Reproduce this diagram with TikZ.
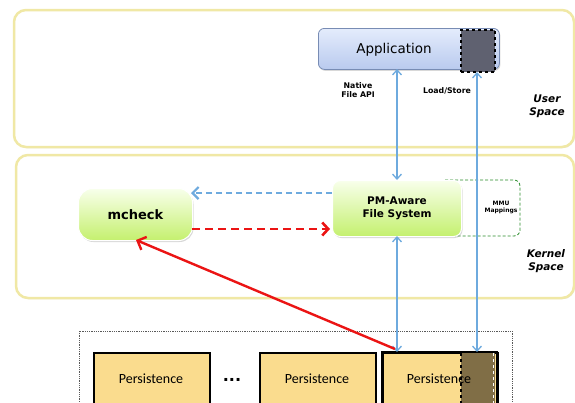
\documentclass[tikz,border=0pt]{standalone}
\usepackage{fontspec}
\setmainfont{DejaVu Sans}
\newfontfamily\calfont{Carlito}
\usetikzlibrary{arrows.meta,shadows}
\definecolor{panelline}{RGB}{240,232,165}
\definecolor{appfillA}{RGB}{228,236,252}
\definecolor{appfillB}{RGB}{185,202,238}
\definecolor{appline}{RGB}{120,140,180}
\definecolor{darkpatch}{RGB}{95,97,112}
\definecolor{greenA}{RGB}{248,255,235}
\definecolor{greenB}{RGB}{196,240,110}
\definecolor{persfill}{RGB}{250,220,142}
\definecolor{persdark}{RGB}{128,110,70}
\definecolor{arrblue}{RGB}{110,170,222}
\definecolor{arrred}{RGB}{235,20,20}
\definecolor{mmugreen}{RGB}{40,140,40}
\begin{document}
\begin{tikzpicture}[x=1pt,y=-1pt,
  panel/.style={draw=panelline,line width=2.5pt,rounded corners=12pt,fill=white,
     drop shadow={shadow xshift=1pt,shadow yshift=-1pt,opacity=0.25}},
  greenbox/.style={rounded corners=8pt,top color=greenA,bottom color=greenB,
     draw=white,line width=1pt,drop shadow={shadow xshift=1pt,shadow yshift=-1.5pt,opacity=0.3}},
  persbox/.style={fill=persfill,draw=black,line width=1.6pt},
  blarrow/.style={draw=arrblue,line width=1.3pt,{Straight Barb[length=5pt,width=9pt]}-{Straight Barb[length=5pt,width=9pt]}},
  smalllbl/.style={font=\bfseries\fontsize{7.8}{9.5}\selectfont,align=center},
  spacelbl/.style={font=\bfseries\itshape\fontsize{10.5}{13}\selectfont,align=center},
  perstxt/.style={font=\calfont\fontsize{14}{16}\selectfont},
]
\useasboundingbox (0,0) rectangle (575,402);
\clip (0,0) rectangle (575,402);
\fill[white] (0,0) rectangle (575,402);
% panels
\draw[panel] (14,10) rectangle (574,147);
\draw[panel] (16,155) rectangle (574,298);
% application
\node[draw=appline,line width=0.8pt,rounded corners=6pt,top color=appfillA,bottom color=appfillB,
  minimum width=181pt,minimum height=41pt,inner sep=0pt,anchor=north west,
  drop shadow={shadow xshift=1pt,shadow yshift=-1.5pt,opacity=0.3}] (app) at (318,28) {};
\node[font=\fontsize{13.5}{16}\selectfont] (apptxt) at (394,50) {Application};
\node[fill=darkpatch,draw=black,dashed,line width=1.6pt,minimum width=34pt,minimum height=42pt,
  inner sep=0pt,anchor=north west] (apppatch) at (460,29) {};
% labels
\node[smalllbl] (native) at (358,90) {Native\\File API};
\node[smalllbl] (loadstore) at (447,91) {Load/Store};
\node[spacelbl] (user) at (547,106) {User\\Space};
\node[spacelbl] (kernel) at (546,261) {Kernel\\Space};
% MMU mappings
\draw[mmugreen,densely dashed,line width=0.8pt,rounded corners=6pt] (440,180) rectangle (520,236);
\node[font=\bfseries\fontsize{6}{7}\selectfont,align=center] (mmu) at (501,207) {MMU\\Mappings};
% green boxes
\node[greenbox,minimum width=129pt,minimum height=56pt,inner sep=0pt,anchor=north west,
  font=\bfseries\fontsize{10.5}{13}\selectfont,align=center] (pmfs) at (332,180) {PM-Aware\\File System};
\node[greenbox,rounded corners=14pt,minimum width=114pt,minimum height=52pt,inner sep=0pt,anchor=north west,
  font=\bfseries\fontsize{13}{15}\selectfont] (mcheck) at (78,188) {mcheck};
% persistence container
\draw[densely dotted,line width=0.8pt,gray!70!black] (79,331) rectangle (512,410);
\node[persbox,minimum width=116pt,minimum height=58pt,inner sep=0pt,anchor=north west] (p1) at (93,352) {};
\node[persbox,minimum width=116pt,minimum height=58pt,inner sep=0pt,anchor=north west] (p2) at (259,352) {};
\node[persbox,minimum width=115pt,minimum height=58pt,inner sep=0pt,anchor=north west] (p3) at (382,352) {};
\fill[persdark] (461,352.8) rectangle (495,410);
\draw[black,dashed,line width=1.4pt] (461,353) -- (461,410);
\draw[white,dashed,line width=1.2pt] (493.5,353) -- (493.5,410);
\draw[black,line width=1.6pt] (382,352) rectangle (497,412);
\node[perstxt] (t1) at (151,379) {Persistence};
\node[perstxt] (t2) at (317,379) {Persistence};
\node[perstxt] (t3) at (439,379) {Persistence};
\node[font=\bfseries\fontsize{16}{18}\selectfont] (dots) at (232,380) {...};
% coordinates for connectors
\coordinate (appA) at (397,69);
\coordinate (pmTop) at (397,180);
\coordinate (pmBot) at (397,236);
\coordinate (p3A) at (397,352);
\coordinate (appB) at (477,72);
\coordinate (p3B) at (477,352);
\coordinate (pmL1) at (332,193);
\coordinate (mcR1) at (191,193);
\coordinate (mcR2) at (192,229);
\coordinate (pmL2) at (330,229);
\coordinate (p3C) at (395,349);
\coordinate (mcB) at (136,240);
% connectors
\draw[blarrow] (pmTop) -- (appA);
\draw[blarrow] (p3A) -- (pmBot);
\draw[blarrow] (p3B) -- (appB);
\draw[draw=arrblue,line width=2.2pt,dash pattern=on 6pt off 4pt,-{Straight Barb[length=6pt,width=12pt]}] (pmL1) -- (mcR1);
\draw[draw=arrred,line width=2.6pt,dash pattern=on 8pt off 5pt,-{Straight Barb[length=6pt,width=13pt]}] (mcR2) -- (pmL2);
\draw[draw=arrred,line width=2.4pt,-{Straight Barb[length=7pt,width=14pt]}] (p3C) -- (mcB);
\end{tikzpicture}
\end{document}
